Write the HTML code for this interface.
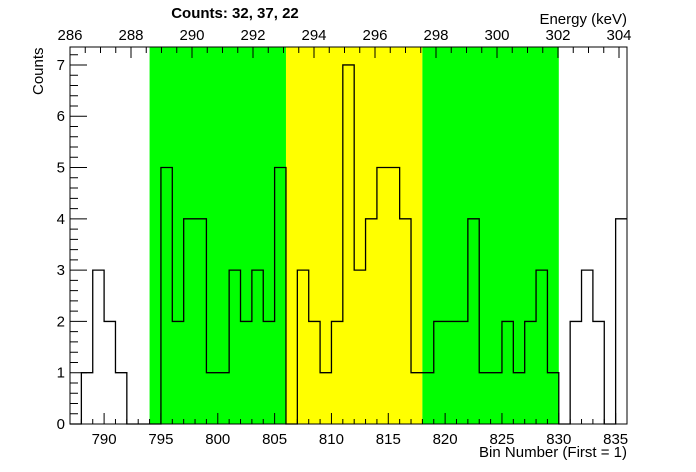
<!DOCTYPE html>
<html><head><meta charset="utf-8"><style>
body{margin:0;background:#fff;}
svg{display:block;font-family:"Liberation Sans",Arial,sans-serif;}
</style></head><body>
<svg id="chart" width="696" height="472" xmlns="http://www.w3.org/2000/svg">
<g id="bands"></g>
<g id="hist"></g>
<g id="axes"></g>
<text x="235" y="18" font-size="15" font-weight="bold" text-anchor="middle">Counts:   32,   37,   22</text>
<text x="627" y="24" font-size="15" text-anchor="end">Energy (keV)</text>
<text x="627" y="457" font-size="15" text-anchor="end">Bin Number (First = 1)</text>
<text transform="translate(43,95) rotate(-90)" font-size="15" text-anchor="start">Counts</text>
</svg>
<script>
const binStart = 787;
const counts = [0,1,3,2,1,0,0,0,5,2,4,4,1,1,3,2,3,2,5,0,3,2,1,2,7,3,4,5,5,4,1,1,2,2,2,4,1,1,2,1,2,3,1,0,2,3,2,0,4];
const regions = [[794,806,'#00ff00'],[806,818,'#ffff00'],[818,830,'#00ff00']];
const xTickLabels = [790,795,800,805,810,815,820,825,830,835];
const yTickLabels = [0,1,2,3,4,5,6,7];
const eTickLabels = [286,288,290,292,294,296,298,300,302,304];
const xMin=787,xMax=836,yMax=7.35,eMin=286,ePerPx=1/30.5;
const L=70,R=627,T=47,B=424;
const X=v=>L+(v-xMin)/(xMax-xMin)*(R-L);
const Y=v=>B-v/yMax*(B-T);
const E=v=>L+(v-eMin)/ePerPx;
const NS='http://www.w3.org/2000/svg';
function mk(parent,tag,attrs){const e=document.createElementNS(NS,tag);for(const k in attrs)e.setAttribute(k,attrs[k]);document.getElementById(parent).appendChild(e);return e;}
regions.forEach((r,i)=>{
 const e=mk('bands','rect',{x:X(r[0]),y:T,width:X(r[1])-X(r[0]),height:B-T,fill:r[2]});
 
 
});
let d='M'+X(binStart)+','+Y(0);
counts.forEach((c,i)=>{d+=' L'+X(binStart+i)+','+Y(c)+' L'+X(binStart+i+1)+','+Y(c);});
const h=mk('hist','path',{d:d,fill:'none',stroke:'#000','stroke-width':1.3});


const f=mk('axes','rect',{x:L,y:T,width:R-L,height:B-T,fill:'none',stroke:'#000','stroke-width':1});


let td='';
for(let v=788;v<xMax;v++){const len=v%5==0?11:5;td+='M'+X(v)+','+B+' v'+(-len)+' ';}
for(let v=0;v<=yMax+1e-9;v=Math.round((v+0.2)*10)/10){const len=Math.abs(v-Math.round(v))<1e-6?17:8;td+='M'+L+','+Y(v)+' h'+len+' ';}
for(let v=eMin;E(v)<R;v+=0.5){const len=v%2==0?11:6;td+='M'+E(v)+','+T+' v'+len+' ';}
const t=mk('axes','path',{d:td,stroke:'#000','stroke-width':1,fill:'none'});


xTickLabels.forEach(v=>{const e=mk('axes','text',{x:X(v),y:B+20,'font-size':15,'text-anchor':'middle'});e.textContent=v;
 
 });
yTickLabels.forEach(v=>{const e=mk('axes','text',{x:L-5,y:Y(v)+5,'font-size':15,'text-anchor':'end'});e.textContent=v;
 
 });
eTickLabels.forEach(v=>{const e=mk('axes','text',{x:E(v),y:T-7,'font-size':15,'text-anchor':'middle'});e.textContent=v;
 
 });
</script>
</body></html>
